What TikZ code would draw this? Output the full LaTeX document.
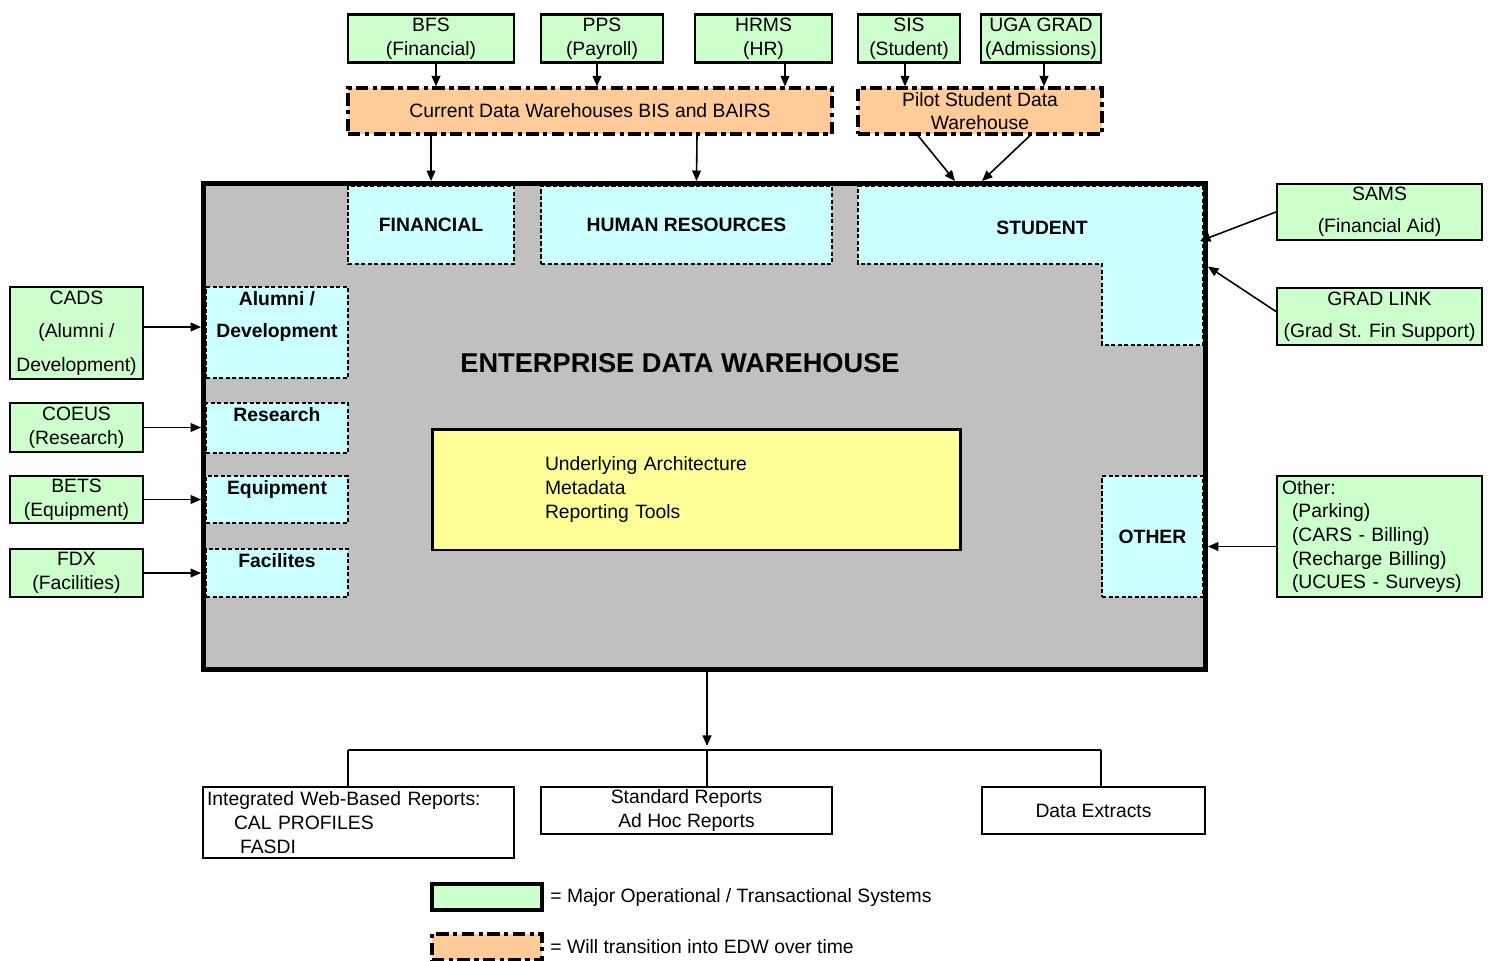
\documentclass[tikz,border=0pt]{standalone}
\usepackage{fontspec}
\setmainfont{Liberation Sans}
\usepackage{tikz}
\usetikzlibrary{arrows.meta, positioning}

\definecolor{sysgreen}{HTML}{CCFFCC}
\definecolor{dworange}{HTML}{FFCC99}
\definecolor{areacyan}{HTML}{CCFFFF}
\definecolor{edwgray}{HTML}{C0C0C0}
\definecolor{coreyellow}{HTML}{FFFF99}

\begin{document}
\fontsize{11}{13.5}\selectfont
\begin{tikzpicture}[x=0.02cm, y=-0.02cm,
  >={Triangle[length=6pt, width=5pt]},
  sysbox/.style={draw, line width=1.2pt, fill=sysgreen, inner xsep=1pt, inner ysep=0pt, align=center},
  dwbox/.style={draw, line width=1.8pt, dash pattern=on 7pt off 2.5pt on 2.5pt off 2.5pt, fill=dworange, inner xsep=1pt, inner ysep=0pt, align=center},
  areabox/.style={draw, line width=0.8pt, dash pattern=on 2.5pt off 1.2pt, fill=areacyan, font=\bfseries, align=center},
  toptext/.style={anchor=north, font=\bfseries, align=center, inner sep=2.5pt},
  outbox/.style={draw, line width=1.2pt, inner ysep=1pt, align=center},
  link/.style={->, line width=0.9pt}]
  \useasboundingbox (0,0) rectangle (1493,960);

  \node[sysbox, minimum width=3.32cm, minimum height=0.96cm] (bfs) at (431,38.5) {BFS\\(Financial)};
  \node[sysbox, minimum width=2.44cm, minimum height=0.96cm] (pps) at (602,38.5) {PPS\\(Payroll)};
  \node[sysbox, minimum width=2.74cm, minimum height=0.96cm] (hrms) at (763.5,38.5) {HRMS\\(HR)};
  \node[sysbox, minimum width=2.04cm, minimum height=0.96cm] (sis) at (909,38.5) {SIS\\(Student)};
  \node[sysbox, minimum width=2.40cm, minimum height=0.96cm] (ugagrad) at (1041,38.5) {UGA GRAD\\(Admissions)};

  \node[dwbox, minimum width=9.68cm, minimum height=0.92cm] (cur) at (590,111) {Current Data Warehouses BIS and BAIRS};
  \node[dwbox, minimum width=4.88cm, minimum height=0.92cm] (pilot) at (980,111) {Pilot Student Data\\Warehouse};

  \node[draw, line width=0.1cm, fill=edwgray, minimum width=20.04cm, minimum height=9.72cm] (edw) at (704.5,426.5) {};

  \node[areabox, minimum width=3.32cm, minimum height=1.56cm] (fin) at (431,225) {FINANCIAL};
  \node[areabox, minimum width=5.82cm, minimum height=1.56cm] (hr) at (686.5,225) {HUMAN RESOURCES};
  \draw[areabox] (858,186) -- (1203,186) -- (1203,345) -- (1102,345) -- (1102,264) -- (858,264) -- cycle;
  \node[font=\bfseries] (stu) at (1042,228) {STUDENT};
  \node[areabox, minimum width=2.84cm, minimum height=1.82cm, label={[toptext]north:{Alumni /\\[5pt]Development}}] (alum) at (277,332.5) {};
  \node[areabox, minimum width=2.84cm, minimum height=1.00cm, label={[toptext]north:Research}] (res) at (277,428) {};
  \node[areabox, minimum width=2.84cm, minimum height=0.94cm, label={[toptext]north:Equipment}] (equ) at (277,499.5) {};
  \node[areabox, minimum width=2.84cm, minimum height=0.96cm, label={[toptext]north:Facilites}] (fac) at (277,573) {};
  \node[areabox, minimum width=2.02cm, minimum height=2.42cm] (other) at (1152.5,536.5) {OTHER};

  \node[font=\fontsize{15.5}{18}\selectfont\bfseries] (title) at (680,363) {ENTERPRISE DATA WAREHOUSE};
  \node[draw, line width=1.7pt, fill=coreyellow, minimum height=2.42cm, inner xsep=2.26cm, text width=6.06cm, align=left] (core) at (696.5,489.5) {Underlying Architecture\\Metadata\\Reporting Tools};

  \node[sysbox, minimum width=2.66cm, minimum height=1.84cm] (cads) at (76.5,333) {CADS\\[5.5pt](Alumni /\\[5.5pt]Development)};
  \node[sysbox, minimum width=2.66cm, minimum height=0.98cm] (coeus) at (76.5,427.5) {COEUS\\(Research)};
  \node[sysbox, minimum width=2.66cm, minimum height=0.94cm] (bets) at (76.5,499.5) {BETS\\(Equipment)};
  \node[sysbox, minimum width=2.66cm, minimum height=0.96cm] (fdx) at (76.5,573) {FDX\\(Facilities)};

  \node[sysbox, minimum width=4.10cm, minimum height=1.12cm] (sams) at (1379.5,212) {SAMS\\[4.5pt](Financial Aid)};
  \node[sysbox, minimum width=4.10cm, minimum height=1.14cm] (gradlink) at (1379.5,316.5) {GRAD LINK\\[4.5pt](Grad St. Fin Support)};
  \node[sysbox, minimum height=2.42cm, inner xsep=0.1cm, text width=3.9cm, align=left] (othersys) at (1379.5,536.5) {Other:\\\hspace*{0.2cm}(Parking)\\\hspace*{0.2cm}(CARS - Billing)\\\hspace*{0.2cm}(Recharge Billing)\\\hspace*{0.2cm}(UCUES - Surveys)};

  \node[outbox, inner xsep=0.08cm, text width=6.06cm, minimum height=1.42cm, align=left] (web) at (358.5,822.5) {Integrated Web-Based Reports:\\\hspace*{0.54cm}CAL PROFILES\\\hspace*{0.66cm}FASDI};
  \node[outbox, minimum width=5.82cm, minimum height=0.94cm] (std) at (686.5,810.5) {Standard Reports\\Ad Hoc Reports};
  \node[outbox, minimum width=4.46cm, minimum height=0.94cm] (ext) at (1093.5,810.5) {Data Extracts};

  \node[sysbox, line width=1.8pt, minimum width=2.2cm, minimum height=0.52cm] (keysys) at (487,897) {};
  \node[right=0pt of keysys] (keysystext) {= Major Operational / Transactional Systems};
  \node[dwbox, minimum width=2.2cm, minimum height=0.52cm] (keydw) at (487,947) {};
  \node[right=0pt of keydw] (keydwtext) {= Will transition into EDW over time};

  \draw[link] ([xshift=0.1cm]bfs.south) -- ([xshift=0.1cm]bfs.south |- cur.north);
  \draw[link] ([xshift=-0.1cm]pps.south) -- ([xshift=-0.1cm]pps.south |- cur.north);
  \draw[link] ([xshift=0.43cm]hrms.south) -- ([xshift=0.43cm]hrms.south |- cur.north);
  \draw[link] ([xshift=-0.08cm]sis.south) -- ([xshift=-0.08cm]sis.south |- pilot.north);
  \draw[link] ([xshift=0.06cm]ugagrad.south) -- ([xshift=0.06cm]ugagrad.south |- pilot.north);

  \draw[link] (cur.south -| fin) -- (fin |- edw.north);
  \draw[link] ([xshift=0.21cm]cur.south -| hr) -- ([xshift=0.2cm]hr |- edw.north);
  \draw[link] ([xshift=-1.24cm]pilot.south) -- ([xshift=-0.5cm]pilot.south |- edw.north);
  \draw[link] ([xshift=1cm]pilot.south) -- ([xshift=0.04cm]pilot.south |- edw.north);

  \draw[link] ([yshift=0.12cm]cads.east) -- ([yshift=0.12cm]cads.east -| edw.west);
  \draw[link] (coeus.east) -- (coeus.east -| edw.west);
  \draw[link] (bets.east) -- (bets.east -| edw.west);
  \draw[link] (fdx.east) -- (fdx.east -| edw.west);

  \draw[link] (sams.west) -- ([xshift=-0.16cm]sams.south -| edw.east);
  \draw[link] ([yshift=0.1cm]gradlink.west) -- ([yshift=1cm]gradlink.west -| edw.east);
  \draw[link] ([yshift=-0.2cm]othersys.west) -- ([yshift=-0.2cm]othersys.west -| edw.east);

  \coordinate (hub) at (707,750);
  \coordinate (busl) at (348,750);
  \coordinate (busr) at (1101,750);
  \draw[link] (edw.south -| hub) -- ([yshift=0.08cm]hub);
  \draw[line width=1.2pt] (busl) -- (busr);
  \draw[line width=1pt] (busl) -- (busl |- web.north);
  \draw[line width=1pt] (hub) -- (hub |- std.north);
  \draw[line width=1pt] (busr) -- (busr |- ext.north);
\end{tikzpicture}
\end{document}
